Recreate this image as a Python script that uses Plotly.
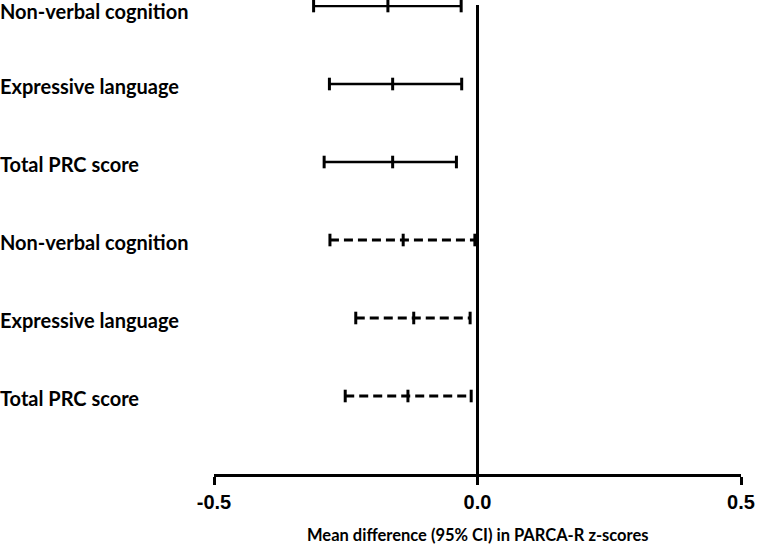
import plotly.graph_objects as go

labels = ["Non-verbal cognition", "Expressive language", "Total PRC score",
          "Non-verbal cognition", "Expressive language", "Total PRC score"]
means = [-0.170, -0.161, -0.161, -0.141, -0.121, -0.132]
lower = [-0.311, -0.281, -0.291, -0.280, -0.231, -0.251]
upper = [-0.031, -0.030, -0.040, -0.005, -0.014, -0.012]
styles = ["solid", "solid", "solid", "dashed", "dashed", "dashed"]
rows = [6, 5, 4, 3, 2, 1]
tick_vals = [-0.5, 0.0, 0.5]
tick_text = ["-0.5", "0.0", "0.5"]

fig = go.Figure()
for lab, m, lo, hi, st, r in zip(labels, means, lower, upper, styles, rows):
    fig.add_trace(go.Scatter(
        x=[lo, m, hi], y=[r, r, r], mode="lines+markers",
        line=dict(color="black", width=(2.5 if st == "solid" else 2.8),
                  dash=("solid" if st == "solid" else "9px,5px")),
        marker=dict(symbol="line-ns", size=9, color="black",
                    line=dict(color="black", width=3)),
        cliponaxis=False, showlegend=False, hoverinfo="skip"))
    fig.add_annotation(text=lab, x=-214/529, xref="paper", y=r, yref="y",
                       xanchor="left", yanchor="middle", showarrow=False, borderpad=0,
                       xshift=-2, yshift=(-5 if r == 6 else -2),
                       font=dict(family="Lato", size=20, color="black", weight=700))

fig.add_annotation(text="Mean difference (95% CI) in PARCA-R z-scores",
                   x=0, xref="x", y=(474 - 535) / 469, yref="paper",
                   xanchor="center", yanchor="middle", showarrow=False,
                   font=dict(family="Lato", size=16.5, color="black", weight=700))

fig.update_xaxes(range=[-0.5, 0.5], tickvals=tick_vals, ticktext=tick_text,
                 showgrid=False, zeroline=True, zerolinecolor="black", zerolinewidth=3,
                 showline=True, linecolor="black", linewidth=3,
                 ticks="outside", ticklen=8, tickwidth=3, tickcolor="black",
                 tickfont=dict(family="Liberation Sans", size=20, color="black", weight=700))
fig.update_yaxes(range=[0, 6.013], visible=False, showgrid=False, zeroline=False)

fig.update_layout(width=760, height=550, margin=dict(l=214, r=17, t=5, b=76),
                  plot_bgcolor="white", paper_bgcolor="white")
fig.write_html("out.html", config={"displayModeBar": False},
               post_script="document.body.style.margin='0';")
